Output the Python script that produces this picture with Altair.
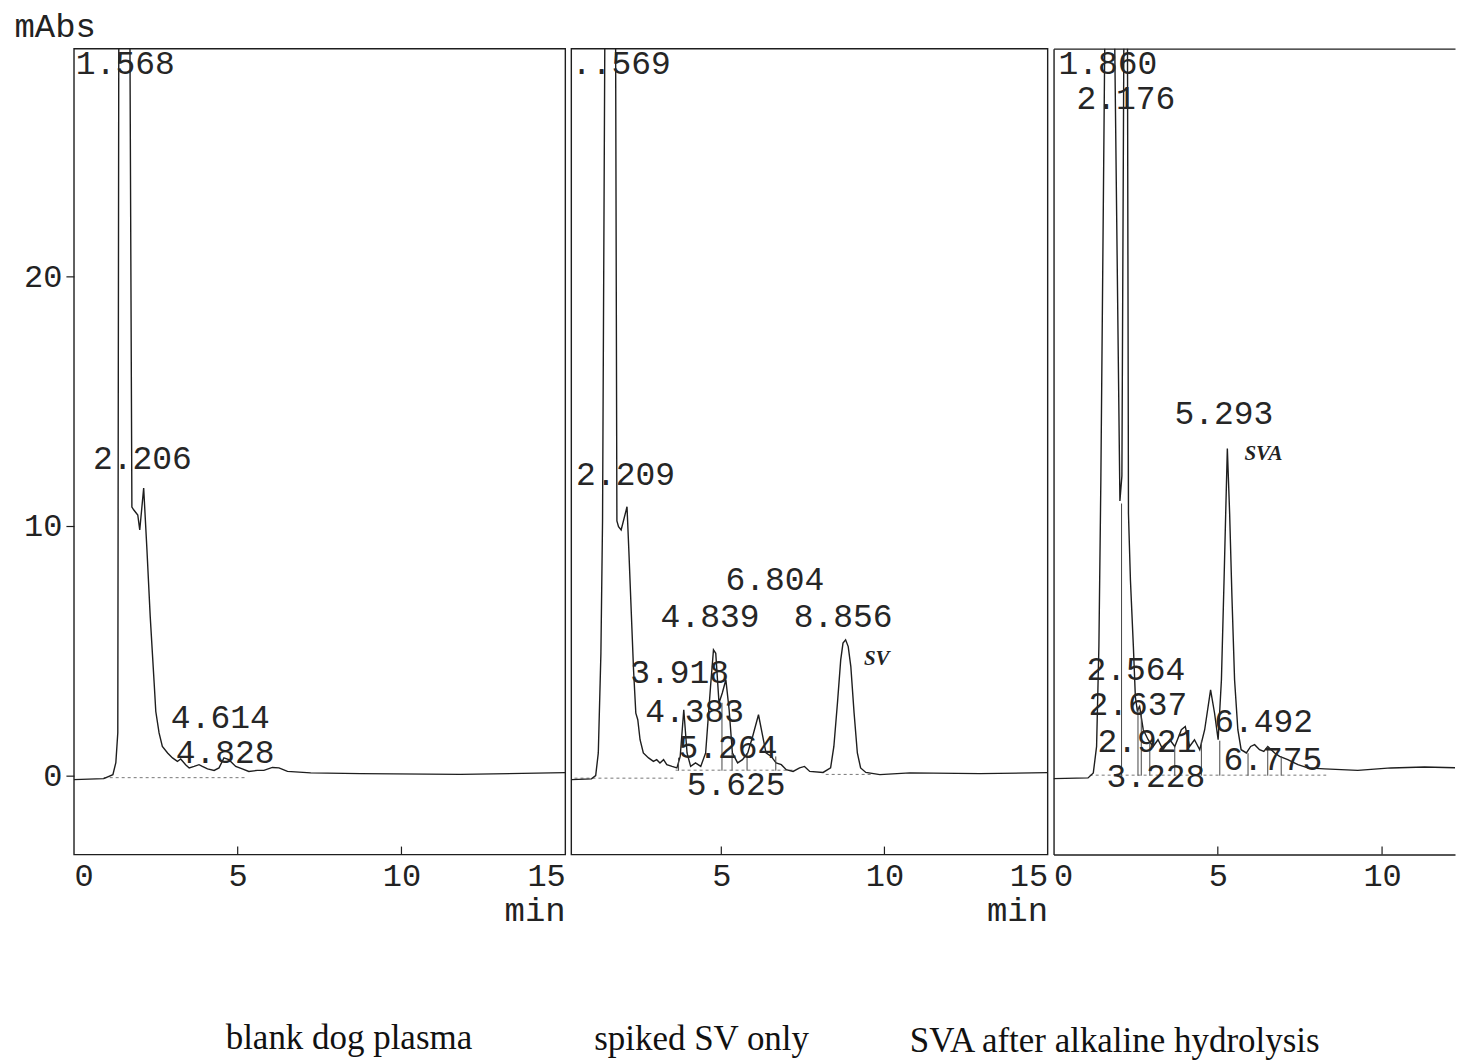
import altair as alt
import pandas as pd

Y_MIN, Y_MAX = -3.16, 29.12
H = 807
MONO = "Liberation Mono"
SERIF = "Liberation Serif"
INK = "#1e1e1e"

# ---------------- panel 1 : blank dog plasma ----------------
p1_t = [0.0, 0.91, 1.19, 1.28, 1.34, 1.37, 1.54, 1.71, 1.77, 1.83, 1.95, 2.01, 2.13, 2.23, 2.33,
        2.45, 2.50, 2.60, 2.70, 2.86, 3.01, 3.16, 3.26, 3.41, 3.52, 3.67, 3.82, 3.92, 4.08, 4.28,
        4.43, 4.58, 4.73, 4.94, 5.14, 5.34, 5.60, 5.80, 6.06, 6.26, 6.52, 7.23, 8.75, 11.80, 15.0]
p1_v = [-0.16, -0.12, 0.04, 0.52, 1.72, 29.5, 50.0, 29.5, 10.76, 10.64, 10.44, 9.84, 11.52, 9.04, 6.37,
        3.71, 2.57, 1.71, 1.17, 0.91, 0.71, 0.57, 0.67, 0.44, 0.31, 0.37, 0.44, 0.37, 0.27, 0.21,
        0.31, 0.71, 0.64, 0.37, 0.27, 0.17, 0.21, 0.21, 0.33, 0.31, 0.17, 0.11, 0.08, 0.05, 0.12]
p1_lab = ["1.568", "2.206", "4.614", "4.828"]
p1_lab_t = [0.06, 0.58, 2.96, 3.11]
p1_lab_v = [28.1, 12.3, 1.92, 0.52]
p1_base_t0, p1_base_t1, p1_base_v = [0.91], [5.3], [-0.08]
p1_drop_t, p1_drop_top, p1_drop_bot = [], [], []

# ---------------- panel 2 : spiked SV only ----------------
p2_t = [0.41, 1.02, 1.15, 1.23, 1.31, 1.36, 1.43, 1.60, 1.76, 1.80, 1.85, 1.93, 2.11, 2.17, 2.23,
        2.31, 2.38, 2.44, 2.51, 2.61, 2.77, 2.92, 3.02, 3.12, 3.23, 3.33, 3.49, 3.64, 3.74, 3.85,
        3.95, 4.06, 4.21, 4.37, 4.52, 4.67, 4.76, 4.83, 4.93, 5.03, 5.14, 5.24, 5.34, 5.50, 5.65,
        5.81, 5.96, 6.14, 6.27, 6.37, 6.53, 6.68, 6.84, 6.99, 7.20, 7.40, 7.55, 7.71, 8.12, 8.35,
        8.45, 8.56, 8.66, 8.73, 8.81, 8.89, 8.97, 9.07, 9.17, 9.27, 9.43, 9.86, 10.78, 12.93, 15.0]
p2_v = [-0.16, -0.13, 0.0, 0.91, 4.9, 10.2, 29.5, 50.0, 29.5, 10.2, 9.97, 9.84, 10.77, 8.9, 6.9,
        4.24, 2.5, 2.24, 1.44, 0.91, 0.71, 0.57, 0.64, 0.51, 0.64, 0.44, 0.37, 0.31, 0.77, 2.64,
        0.91, 0.37, 0.51, 0.37, 0.91, 3.57, 5.04, 4.9, 2.91, 3.31, 3.84, 2.64, 0.91, 0.51, 0.64,
        0.91, 1.57, 2.44, 1.57, 0.91, 0.77, 0.51, 0.44, 0.24, 0.17, 0.31, 0.37, 0.17, 0.13, 0.31,
        1.17, 2.91, 4.64, 5.31, 5.44, 5.17, 4.37, 2.51, 0.91, 0.31, 0.13, 0.04, 0.11, 0.08, 0.12]
p2_lab = ["..569", "2.209", "6.804", "4.839", "8.856", "3.918", "4.383", "5.264", "5.625"]
p2_lab_t = [0.42, 0.55, 5.13, 3.14, 7.22, 2.21, 2.67, 3.69, 3.94]
p2_lab_v = [28.1, 11.64, 7.44, 5.96, 5.96, 3.72, 2.16, 0.72, -0.76]
p2_note, p2_note_t, p2_note_v = ["SV"], [9.37], [4.44]
p2_base_t0, p2_base_t1, p2_base_v = [0.5, 3.6, 8.2], [3.6, 7.2, 9.6], [-0.1, 0.22, 0.05]
p2_drop_t = [3.69, 5.02, 5.33, 5.79, 6.67]
p2_drop_top = [0.72, 2.92, 0.91, 0.91, 0.77]
p2_drop_bot = [0.2, 0.2, 0.2, 0.2, 0.2]

# ---------------- panel 3 : SVA after alkaline hydrolysis ----------------
p3_t = [0.0, 1.05, 1.21, 1.31, 1.38, 1.44, 1.56, 1.70, 1.86, 2.02, 2.08, 2.14, 2.20, 2.25, 2.28,
        2.34, 2.43, 2.49, 2.55, 2.62, 2.73, 2.88, 3.03, 3.18, 3.33, 3.54, 3.69, 3.89, 4.01, 4.14,
        4.29, 4.45, 4.60, 4.78, 4.90, 5.01, 5.11, 5.19, 5.24, 5.29, 5.36, 5.43, 5.51, 5.61, 5.71,
        5.87, 6.00, 6.12, 6.27, 6.40, 6.52, 6.73, 6.88, 7.13, 7.44, 7.74, 8.25, 9.26, 10.27, 11.29, 12.5]
p3_v = [-0.12, -0.09, 0.11, 1.17, 5.17, 11.84, 29.5, 50.0, 29.5, 11.0, 12.0, 29.5, 45.0, 29.5, 10.5,
        7.84, 5.16, 3.16, 2.6, 2.77, 1.84, 1.44, 1.17, 1.44, 1.04, 1.44, 1.17, 1.84, 1.97, 1.17,
        1.44, 1.04, 1.84, 3.44, 2.51, 1.44, 3.84, 7.84, 10.5, 13.1, 10.5, 7.17, 3.84, 1.84, 1.04,
        0.91, 1.17, 1.24, 1.04, 0.97, 1.17, 0.91, 0.77, 0.64, 0.44, 0.31, 0.27, 0.21, 0.31, 0.35, 0.31]
p3_lab = ["1.860", "2.176", "5.293", "2.564", "2.637", "6.492", "2.921", "6.775", "3.228"]
p3_lab_t = [0.15, 0.70, 3.68, 1.0, 1.06, 4.89, 1.34, 5.17, 1.61]
p3_lab_v = [28.1, 26.7, 14.08, 3.84, 2.44, 1.76, 0.96, 0.24, -0.44]
p3_note, p3_note_t, p3_note_v = ["SVA"], [5.81], [12.64]
p3_base_t0, p3_base_t1, p3_base_v = [1.1], [8.3], [0.02]
p3_drop_t = [2.07, 2.57, 2.67, 2.93, 3.69, 4.50, 5.06, 5.92, 6.52, 6.93]
p3_drop_top = [10.9, 2.77, 2.5, 1.3, 1.17, 1.4, 1.4, 0.9, 1.17, 0.77]
p3_drop_bot = [0.0] * 10

inner_ticks = [5, 10]
captions = ["blank dog plasma", "spiked SV only", "SVA after alkaline hydrolysis"]


def yscale():
    return alt.Scale(domain=[Y_MIN, Y_MAX], nice=False, zero=False)


def build(t, v, lab, lab_t, lab_v, note, note_t, note_v, b0, b1, bv, dt, dtop, dbot,
          xdom, width, xvals, caption, cap_dx, cap_off, first=False, show_min=True, last=False):
    xs = alt.Scale(domain=xdom, nice=False, zero=False)
    xaxis = alt.Axis(values=xvals, format="d", labelFlush=True, ticks=False, tickSize=0,
                     labelPadding=6, domain=last, domainColor=INK, domainWidth=1.4, grid=False,
                     labelFont=MONO, labelFontSize=32, labelColor="#222",
                     title="min" if show_min else None,
                     titleX=width, titleY=66, titleAlign="right", titleBaseline="alphabetic",
                     titleFont=MONO, titleFontSize=34, titleFontWeight="normal", titleColor="#222")
    if first:
        yaxis = alt.Axis(values=[0, 10, 20], tickSize=8, tickColor=INK, tickWidth=1.2, labelPadding=4,
                         domain=False, grid=False, labelFont=MONO, labelFontSize=32, labelColor="#222",
                         title="mAbs", titleAngle=0, titleAlign="left", titleBaseline="alphabetic",
                         titleX=-60, titleY=-12, titleFont=MONO, titleFontSize=34,
                         titleFontWeight="normal", titleColor="#222")
    elif last:
        yaxis = alt.Axis(labels=False, ticks=False, domain=True, domainColor=INK, domainWidth=1.4,
                         grid=False, title=None)
    else:
        yaxis = None

    trace = pd.DataFrame({"t": t, "v": v, "i": list(range(len(t)))})
    line = alt.Chart(trace).mark_line(color=INK, strokeWidth=1.4, clip=True).encode(
        x=alt.X("t:Q", scale=xs, axis=xaxis),
        y=alt.Y("v:Q", scale=yscale(), axis=yaxis),
        order="i:Q",
    )
    base = alt.Chart(pd.DataFrame({"t0": b0, "t1": b1, "v": bv})).mark_rule(
        color="#777", strokeWidth=1, strokeDash=[3, 3], clip=True).encode(
        x=alt.X("t0:Q", scale=xs, axis=None), x2="t1:Q",
        y=alt.Y("v:Q", scale=yscale(), axis=None))
    layers = [base, line]
    if dt:
        drops = alt.Chart(pd.DataFrame({"t": dt, "a": dbot, "b": dtop})).mark_rule(
            color="#444", strokeWidth=1, clip=True).encode(
            x=alt.X("t:Q", scale=xs, axis=None),
            y=alt.Y("a:Q", scale=yscale(), axis=None), y2="b:Q")
        layers.append(drops)
    labels = alt.Chart(pd.DataFrame({"t": lab_t, "v": lab_v, "s": lab})).mark_text(
        font=MONO, fontSize=33, align="left", baseline="alphabetic", color="#262626").encode(
        x=alt.X("t:Q", scale=xs, axis=None),
        y=alt.Y("v:Q", scale=yscale(), axis=None), text="s:N")
    layers.append(labels)
    if note:
        notes = alt.Chart(pd.DataFrame({"t": note_t, "v": note_v, "s": note})).mark_text(
            font=SERIF, fontSize=21, fontStyle="italic", fontWeight="bold", align="left",
            baseline="alphabetic", color="#222").encode(
            x=alt.X("t:Q", scale=xs, axis=None),
            y=alt.Y("v:Q", scale=yscale(), axis=None), text="s:N")
        layers.append(notes)
    tick_df = pd.DataFrame({"t": inner_ticks, "a": [Y_MIN] * len(inner_ticks),
                            "b": [Y_MIN + 0.32] * len(inner_ticks)})
    top_axis = None
    if last:
        top_axis = alt.Axis(orient="top", labels=False, ticks=False, domain=True, domainColor=INK,
                            domainWidth=1.4, grid=False, title=None)
    ticks = alt.Chart(tick_df).mark_rule(color=INK, strokeWidth=1.2).encode(
        x=alt.X("t:Q", scale=xs, axis=top_axis),
        y=alt.Y("a:Q", scale=yscale(), axis=None), y2="b:Q")
    layers.append(ticks)

    ch = alt.layer(*layers).properties(
        width=width, height=H,
        title=alt.TitleParams(caption, orient="bottom", anchor="start", frame="group", dx=cap_dx,
                              offset=cap_off, font=SERIF, fontSize=35, fontWeight="normal",
                              color="#111", baseline="alphabetic"),
    ).resolve_axis(x="independent", y="independent")
    if last:
        ch = ch.properties(view=alt.ViewBackground(stroke="transparent"))
    return ch


c1 = build(p1_t, p1_v, p1_lab, p1_lab_t, p1_lab_v, [], [], [], p1_base_t0, p1_base_t1, p1_base_v,
           p1_drop_t, p1_drop_top, p1_drop_bot, [0, 15], 492, [0, 5, 10, 15], captions[0], 152, 122,
           first=True)
c2 = build(p2_t, p2_v, p2_lab, p2_lab_t, p2_lab_v, p2_note, p2_note_t, p2_note_v, p2_base_t0,
           p2_base_t1, p2_base_v, p2_drop_t, p2_drop_top, p2_drop_bot, [0.4, 15], 477, [5, 10, 15],
           captions[1], 23, 123)
c3 = build(p3_t, p3_v, p3_lab, p3_lab_t, p3_lab_v, p3_note, p3_note_t, p3_note_v, p3_base_t0,
           p3_base_t1, p3_base_v, p3_drop_t, p3_drop_top, p3_drop_bot, [0, 12.22], 402, [0, 5, 10],
           captions[2], -144, 161, show_min=False, last=True)

chart = alt.hconcat(c1, c2, c3, spacing=6, bounds="flush").properties(
    padding={"left": 5, "top": 0, "right": 0, "bottom": 0},
    background="white",
).configure_view(stroke=INK, strokeWidth=1.4)

chart.save("out.html", embed_options={"renderer": "svg", "actions": False})
